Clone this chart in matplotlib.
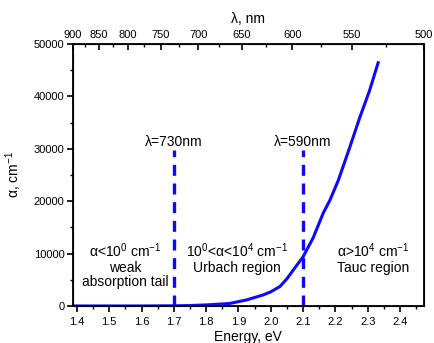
import matplotlib
matplotlib.use("Agg")
import matplotlib.pyplot as plt
import numpy as np
from matplotlib.ticker import MultipleLocator, FixedLocator

matplotlib.rcParams.update({
    "font.family": ["Liberation Sans", "DejaVu Sans"],
    "font.stretch": "normal",
    "mathtext.fontset": "custom",
    "mathtext.rm": "Liberation Sans",
    "mathtext.it": "Liberation Serif:italic",
    "mathtext.default": "rm",
})

## DATA ##
energy_eV = [1.387, 1.50, 1.60, 1.70, 1.75, 1.80, 1.85, 1.875, 1.925, 1.976, 2.00,
             2.028, 2.05, 2.07, 2.10, 2.131, 2.162, 2.183, 2.209, 2.245, 2.276, 2.305, 2.332]
alpha_cm = [0, 0, 0, 30, 80, 200, 380, 500, 1150, 2100, 2700,
            3700, 5200, 6900, 9400, 13000, 17700, 20200, 24000, 30400, 36100, 41000, 46400]

marker_energy = [1.7, 2.1]
marker_labels = ["\u03bb=730nm", "\u03bb=590nm"]
marker_top = 29800

top_ticks_nm = [900, 850, 800, 750, 700, 650, 600, 550, 500]
top_minor_nm = [875, 825, 775, 725, 675, 625, 575, 525]

region_texts = [
    (1.55, r"$\alpha$<10$^0$ cm$^{-1}$" + "\nweak\nabsorption tail"),
    (1.895, r"10$^0$<$\alpha$<10$^4$ cm$^{-1}$" + "\nUrbach region"),
    (2.316, r"$\alpha$>10$^4$ cm$^{-1}$" + "\nTauc region"),
]

X_MIN, X_MAX = 1.387, 2.474          # energy axis range
TOP_MIN, TOP_MAX = 1.3775, 2.48      # wavelength axis range (as in the source figure)

fig = plt.figure(figsize=(4.34, 3.43), dpi=100)
ax = fig.add_axes([0.1675, 0.108, 0.8095, 0.764])

ax.plot(energy_eV, alpha_cm, color="#0a0aff", linewidth=2.2)

for e, lab in zip(marker_energy, marker_labels):
    ax.plot([e, e], [0, marker_top], color="#0a0aff", linewidth=2.4, linestyle=(0, (3.3, 2.3)))
    ax.text(e, marker_top + 150, lab, ha="center", va="bottom", fontsize=10)

for e, txt in region_texts:
    ax.text(e, 12300, txt, ha="center", va="top", fontsize=10, linespacing=1.05)

ax.set_xlim(X_MIN, X_MAX)
ax.set_ylim(0, 50000)
ax.xaxis.set_minor_locator(MultipleLocator(0.05))
ax.yaxis.set_major_locator(MultipleLocator(10000))
ax.yaxis.set_minor_locator(MultipleLocator(5000))
bottom_ticks = np.round(np.arange(1.4, 2.41, 0.1), 1)
ax.set_xticks(bottom_ticks)
ax.set_xticklabels([f"{v:.1f}" for v in bottom_ticks])
ax.tick_params(which="major", direction="out", length=4, width=1.2, labelsize=8, pad=2)
ax.tick_params(axis="x", which="major", pad=4)
ax.tick_params(which="minor", direction="out", length=2.5, width=1.0)
ax.tick_params(axis="x", which="both", top=False)
for s in ax.spines.values():
    s.set_linewidth(1.3)

ax.set_xlabel("Energy, eV", fontsize=10, labelpad=2)
ax.set_ylabel(r"$\alpha$, cm$^{-1}$", fontsize=10, labelpad=7)

## TOP WAVELENGTH AXIS ##
ax2 = ax.twiny()
ax2.set_xlim(TOP_MIN, TOP_MAX)
ax2.xaxis.set_major_locator(FixedLocator([1240.0 / w for w in top_ticks_nm]))
ax2.xaxis.set_minor_locator(FixedLocator([1240.0 / w for w in top_minor_nm]))
ax2.set_xticklabels([str(w) for w in top_ticks_nm])
ax2.tick_params(which="major", direction="in", length=4, width=1.2, labelsize=8, pad=3)
ax2.tick_params(which="minor", direction="in", length=2.5, width=1.0)
ax2.set_xlabel("\u03bb, nm", fontsize=10, labelpad=5)

fig.savefig("out.png", dpi=100)
